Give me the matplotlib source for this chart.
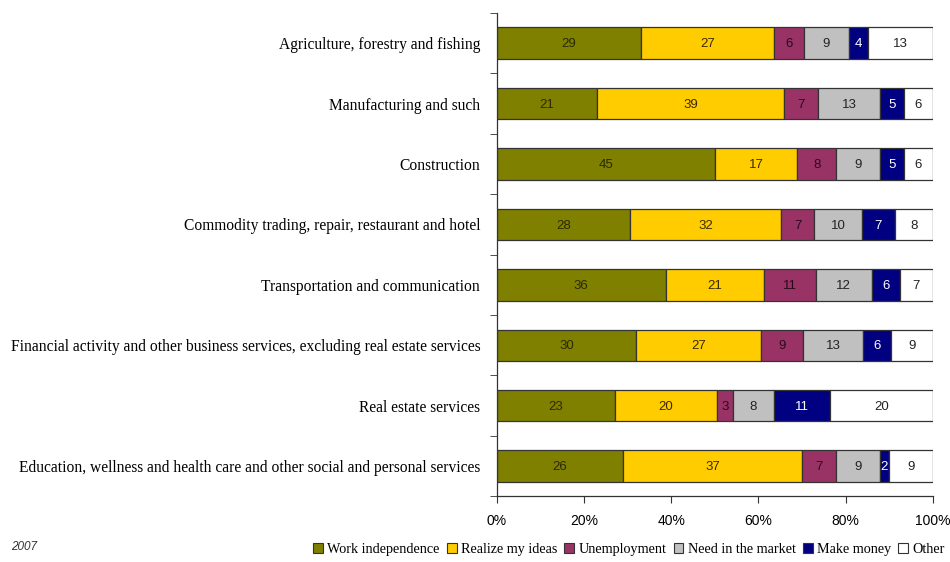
import matplotlib
matplotlib.use("Agg")
import matplotlib.pyplot as plt
from matplotlib.patches import Patch
import numpy as np

categories = [
    "Agriculture, forestry and fishing",
    "Manufacturing and such",
    "Construction",
    "Commodity trading, repair, restaurant and hotel",
    "Transportation and communication",
    "Financial activity and other business services, excluding real estate services",
    "Real estate services",
    "Education, wellness and health care and other social and personal services",
]
series_names = ["Work independence", "Realize my ideas", "Unemployment",
                "Need in the market", "Make money", "Other"]
work_independence = [29, 21, 45, 28, 36, 30, 23, 26]
realize_ideas = [27, 39, 17, 32, 21, 27, 20, 37]
unemployment = [6, 7, 8, 7, 11, 9, 3, 7]
need_market = [9, 13, 9, 10, 12, 13, 8, 9]
make_money = [4, 5, 5, 7, 6, 6, 11, 2]
other = [13, 6, 6, 8, 7, 9, 20, 9]
x_ticks = [0, 20, 40, 60, 80, 100]
x_tick_labels = ["0%", "20%", "40%", "60%", "80%", "100%"]

colors = ["#808000", "#FFCC00", "#993366", "#C0C0C0", "#000080", "#FFFFFF"]
text_colors = ["#2a2a00", "#3a2a00", "#2a0a1a", "#222222", "#FFFFFF", "#222222"]

data = np.array([work_independence, realize_ideas, unemployment,
                 need_market, make_money, other], dtype=float)
totals = data.sum(axis=0)
pct = data / totals * 100

fig = plt.figure(figsize=(9.5, 5.62), dpi=100)
ax = fig.add_axes([0.523, 0.117, 0.459, 0.86])

n = len(categories)
y = np.arange(n)
left = np.zeros(n)
for i in range(len(series_names)):
    ax.barh(y, pct[i], left=left, height=0.52, color=colors[i],
            edgecolor="#333333", linewidth=0.9, label=series_names[i])
    for j in range(n):
        ax.text(left[j] + pct[i][j] / 2, y[j] + 0.02, str(int(data[i][j])),
                ha="center", va="center", fontsize=9.5,
                family="Liberation Sans", color=text_colors[i])
    left += pct[i]

ax.set_xlim(0, 100)
ax.set_ylim(n - 0.5, -0.5)
ax.set_xticks(x_ticks)
ax.set_xticklabels(x_tick_labels, family="Liberation Sans", fontsize=10)
ax.set_yticks(y)
ax.set_yticklabels(categories, family="Liberation Serif", fontsize=11.2)
ax.tick_params(axis="y", length=0, pad=12)
ax.set_yticks(np.arange(n + 1) - 0.5, minor=True)
ax.tick_params(axis="y", which="minor", length=5, direction="out", color="#333333")
ax.tick_params(axis="x", length=5, direction="out", color="#333333", pad=8)
for s in ["top", "right"]:
    ax.spines[s].set_visible(False)
for s in ["left", "bottom"]:
    ax.spines[s].set_color("#333333")
    ax.spines[s].set_linewidth(0.9)

handles = [Patch(facecolor=colors[i], edgecolor="#333333", linewidth=0.8)
           for i in range(len(series_names))]
fig.legend(handles, series_names, loc="center", bbox_to_anchor=(0.662, 0.022),
           ncol=6, frameon=False, handlelength=0.7, handleheight=0.7,
           handletextpad=0.3, columnspacing=0.5,
           prop={"family": "Liberation Serif", "size": 10.2})

fig.text(0.012, 0.027, "2007", fontsize=8.5, style="italic",
         family="Liberation Sans", color="#333333", va="center")

fig.savefig("out.png", dpi=100)
